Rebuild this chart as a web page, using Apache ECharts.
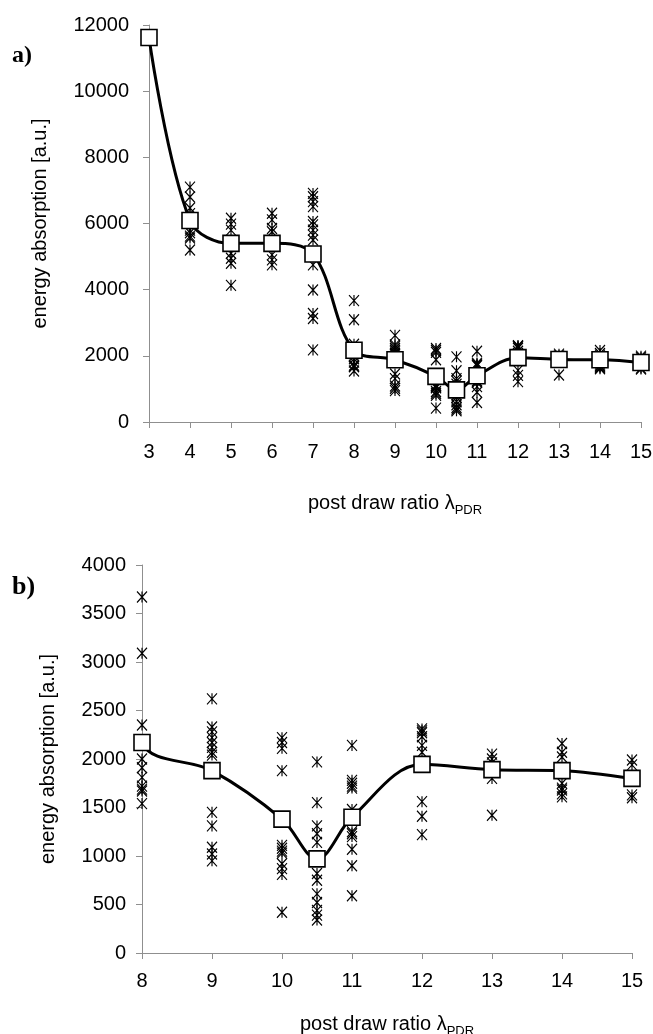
<!DOCTYPE html>
<html>
<head>
<meta charset="utf-8">
<script src="https://cdn.jsdelivr.net/npm/echarts@6/dist/echarts.min.js"></script>
<style>
html, body { margin: 0; padding: 0; background: #fff; }
#main { width: 653px; height: 1034px; }
</style>
</head>
<body>
<div id="main"></div>
<script>
// post draw ratios (10.5 sits between 10 and 11)
const ratios = [3, 4, 5, 6, 7, 8, 9, 10, 10.5, 11, 12, 13, 14, 15];
// mean energy absorption -> the squares
const means = [11620, 6090, 5400, 5400, 5080, 2170, 1880, 1380, 970, 1400, 1945, 1890, 1880, 1800];

// single measurements -> the asterisks
const meas4 = [7100, 6800, 6470, 6300, 5800, 5720, 5620, 5560, 5200];
const meas5 = [6160, 5980, 5800, 5100, 4950, 4800, 4130];
const meas6 = [6310, 6110, 5850, 5750, 5050, 4900, 4750];
const meas7 = [6910, 6810, 6660, 6510, 6060, 5960, 5800, 5650, 5500, 4750, 3990, 3280, 3130, 2180];
const meas8 = [3670, 3090, 2350, 2000, 1910, 1810, 1720, 1690, 1670, 1540];
const meas9 = [2620, 2330, 2280, 2220, 2170, 2120, 2070, 2040, 1450, 1310, 1090, 1020, 950];
const meas10 = [2220, 2170, 2110, 1880, 1110, 1080, 1050, 1030, 920, 870, 810, 420];
const meas105 = [1970, 1550, 1310, 1230, 1140, 820, 750, 610, 520, 440, 390, 340];
const meas11 = [2140, 1780, 1750, 1720, 1700, 1480, 1250, 1230, 1200, 1070, 900, 590];
const meas12 = [2310, 2290, 2270, 2230, 2140, 2070, 1560, 1410, 1220];
const meas13 = [2050, 2000, 1960, 1800, 1420];
const meas14 = [2160, 2070, 2020, 1750, 1700, 1680, 1640, 1610];
const meas15 = [1990, 1940, 1630, 1600];

const measX = [4, 5, 6, 7, 8, 9, 10, 10.5, 11, 12, 13, 14, 15];
const measLists = [meas4, meas5, meas6, meas7, meas8, meas9, meas10, meas105, meas11, meas12, meas13, meas14, meas15];

const xTitle = '{t|post draw ratio λ}{s|PDR}';
const yTitle = 'energy absorption [a.u.]';

function starPoints(minX) {
    const pts = [];
    measX.forEach((x, i) => {
        if (x >= minX) measLists[i].forEach(v => pts.push([x, v]));
    });
    return pts;
}
function meanPoints(minX) {
    return ratios.map((x, i) => [x, means[i]]).filter(p => p[0] >= minX);
}

const font = 'Liberation Sans, Arial, sans-serif';
const grey = '#8f8f8f';
const starSymbol = 'path://M0,0L10,11M10,0L0,11M5,0L5,11';

function xAxisOf(idx, min, max, gap, margin) {
    return {
        type: 'value', gridIndex: idx, min: min, max: max, interval: 1,
        splitLine: { show: false },
        axisLine: { onZero: false, lineStyle: { color: grey, width: 1 } },
        axisTick: { length: 6, lineStyle: { color: grey } },
        axisLabel: { color: '#000', fontSize: 20, fontFamily: font, margin: margin, formatter: v => String(v) },
        name: xTitle, nameLocation: 'middle', nameGap: gap, nameMoveOverlap: false,
        nameTextStyle: {
            color: '#000', fontFamily: font,
            rich: {
                t: { fontSize: 20, fontFamily: font, color: '#000' },
                s: { fontSize: 13, fontFamily: font, color: '#000', padding: [14, 0, 0, 0] }
            }
        }
    };
}
function yAxisOf(idx, max, interval, gap, margin) {
    return {
        type: 'value', gridIndex: idx, min: 0, max: max, interval: interval,
        splitLine: { show: false },
        axisLine: { show: true, lineStyle: { color: grey, width: 1 } },
        axisTick: { show: true, length: 6, lineStyle: { color: grey } },
        axisLabel: { color: '#000', fontSize: 20, fontFamily: font, margin: margin, formatter: v => String(v) },
        name: yTitle, nameLocation: 'middle', nameRotate: 90, nameGap: gap, nameMoveOverlap: false,
        nameTextStyle: { color: '#000', fontSize: 20, fontFamily: font }
    };
}

const starStyle = {
    type: 'scatter', symbol: starSymbol, symbolSize: [10, 11],
    itemStyle: { color: 'rgba(0,0,0,0)', borderColor: '#000', borderWidth: 1.2, opacity: 1 },
    z: 2
};
const squareStyle = { color: '#fff', borderColor: '#000', borderWidth: 1.6, opacity: 1 };

const option = {
    animation: false,
    backgroundColor: '#fff',
    grid: [
        { left: 149, top: 25, width: 492, height: 397, outerBoundsMode: 'none' },
        { left: 142, top: 565, width: 490, height: 388, outerBoundsMode: 'none' }
    ],
    xAxis: [
        xAxisOf(0, 3, 15, 68, 20),
        xAxisOf(1, 8, 15, 58, 18)
    ],
    yAxis: [
        yAxisOf(0, 12000, 2000, 99, 20),
        yAxisOf(1, 4000, 500, 84, 16)
    ],
    graphic: [
        { type: 'text', left: 12, top: 44, style: { text: 'a)', fontSize: 24, fontWeight: 'bold', fontFamily: 'Liberation Serif, Times New Roman, serif', fill: '#000' } },
        { type: 'text', left: 12, top: 574, style: { text: 'b)', fontSize: 26, fontWeight: 'bold', fontFamily: 'Liberation Serif, Times New Roman, serif', fill: '#000' } }
    ],
    series: [
        Object.assign({}, starStyle, { xAxisIndex: 0, yAxisIndex: 0, data: starPoints(0) }),
        {
            type: 'line', xAxisIndex: 0, yAxisIndex: 0, data: meanPoints(0),
            smooth: 0.35, symbol: 'rect', symbolSize: 16, showAllSymbol: true,
            itemStyle: squareStyle, lineStyle: { color: '#000', width: 3 }, z: 3
        },
        Object.assign({}, starStyle, { xAxisIndex: 1, yAxisIndex: 1, data: starPoints(8) }),
        {
            type: 'line', xAxisIndex: 1, yAxisIndex: 1, data: meanPoints(7),
            smooth: 0.35, showSymbol: false, clip: true,
            lineStyle: { color: '#000', width: 3 }, z: 3
        },
        {
            type: 'scatter', xAxisIndex: 1, yAxisIndex: 1, data: meanPoints(8),
            symbol: 'rect', symbolSize: 16, itemStyle: squareStyle, z: 4
        }
    ]
};

const myChart = echarts.init(document.getElementById('main'));
myChart.setOption(option);
</script>
</body>
</html>
